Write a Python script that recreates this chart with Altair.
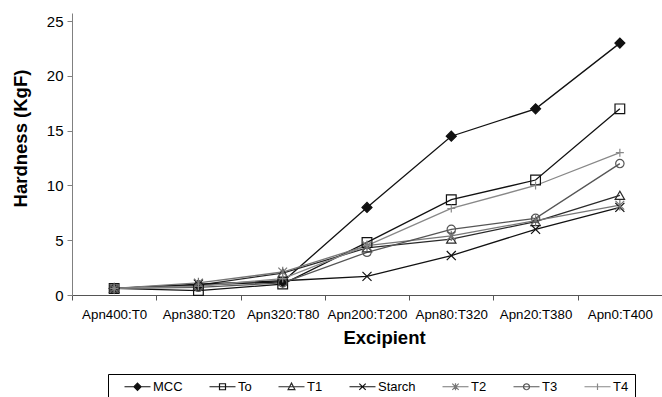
import math
import altair as alt
import pandas as pd

categories = ["Apn400:T0", "Apn380:T20", "Apn320:T80", "Apn200:T200",
              "Apn80:T320", "Apn20:T380", "Apn0:T400"]
series_names = ["MCC", "To", "T1", "Starch", "T2", "T3", "T4"]

mcc = [0.6, 0.9, 1.2, 8.0, 14.5, 17.0, 23.0]
to = [0.6, 0.4, 1.0, 4.8, 8.7, 10.5, 17.0]
t1 = [0.6, 0.9, 2.0, 4.3, 5.1, 6.7, 9.1]
starch = [0.6, 1.0, 1.3, 1.7, 3.6, 6.0, 8.0]
t2 = [0.6, 1.1, 2.1, 4.5, 5.4, 6.8, 8.2]
t3 = [0.6, 0.7, 1.1, 3.9, 6.0, 7.0, 12.0]
t4 = [0.6, 0.8, 1.5, 4.5, 7.9, 10.0, 13.0]

y_ticks = [0, 5, 10, 15, 20, 25]

series_values = {"MCC": mcc, "To": to, "T1": t1, "Starch": starch,
                 "T2": t2, "T3": t3, "T4": t4}
rows = []
for s in series_names:
    for c, v in zip(categories, series_values[s]):
        rows.append({"Excipient": c, "Series": s, "Hardness": v})
df = pd.DataFrame(rows)

# styles
line_colors = ["#111111", "#111111", "#2a2a2a", "#111111", "#777777", "#555555", "#888888"]
fill_colors = ["#111111", "transparent", "transparent", "transparent",
               "transparent", "transparent", "transparent"]
X_PATH = "M-1,-1L1,1M-1,1L1,-1"
STAR_PATH = "M-1,-1L1,1M-1,1L1,-1M0,-1.2L0,1.2"
PLUS_PATH = "M-1,0L1,0M0,-1L0,1"
point_shapes = ["diamond", "square", "triangle-up", X_PATH, STAR_PATH, "circle", PLUS_PATH]
point_sizes = [100, 64, 64, 90, 64, 64, 64]

# legend symbols: line segment with marker in the middle (unit = sqrt(size)/2 px)
LINE = "M1,0L7.5,0"
def poly_circle(cx, r, n=16):
    pts = []
    for i in range(n):
        a = 2 * math.pi * i / n
        pts.append(f"{cx + r * math.cos(a):.3f},{r * math.sin(a):.3f}")
    return "M" + "L".join(pts) + "Z"

MC = 4.25
legend_paths = [
    LINE + f"M{MC},-0.9L{MC+0.9},0L{MC},0.9L{MC-0.9},0Z",
    LINE + f"M{MC-0.75},-0.75L{MC+0.75},-0.75L{MC+0.75},0.75L{MC-0.75},0.75Z",
    LINE + f"M{MC},-0.9L{MC+0.85},0.7L{MC-0.85},0.7Z",
    LINE + f"M{MC-0.8},-0.8L{MC+0.8},0.8M{MC-0.8},0.8L{MC+0.8},-0.8",
    LINE + f"M{MC-0.8},-0.8L{MC+0.8},0.8M{MC-0.8},0.8L{MC+0.8},-0.8M{MC},-0.9L{MC},0.9",
    LINE + poly_circle(MC, 0.75),
    LINE + f"M{MC},-0.8L{MC},0.8",
]

FONT = "Liberation Sans"

x_enc = alt.X(
    "Excipient:N", sort=categories, bandPosition=0.5,
    scale=alt.Scale(type="band", domain=categories, paddingInner=0, paddingOuter=0),
    axis=alt.Axis(tickBand="extent", tickSize=5, labelAngle=0, labelFontSize=13.3,
                  labelPadding=7, labelColor="#000000", domainColor="#555555",
                  tickColor="#555555", grid=False, title="Excipient",
                  titleFontSize=18.5, titleFontWeight="bold", titleColor="#000000",
                  titleX=312, titleY=48, titleBaseline="alphabetic", titleAlign="center"),
)
y_enc = alt.Y(
    "Hardness:Q",
    scale=alt.Scale(domain=[0, 25.75], nice=False, zero=True),
    axis=alt.Axis(values=y_ticks, tickSize=5, labelFontSize=15, labelPadding=4,
                  labelColor="#000000", domainColor="#808080", tickColor="#808080",
                  grid=False, title="Hardness (KgF)", titleFontSize=18.5,
                  titleFontWeight="bold", titleColor="#000000", titleAngle=270,
                  titleX=-46, titleY=125, titleBaseline="alphabetic", titleAlign="center"),
)

stroke_scale = alt.Scale(domain=series_names, range=line_colors)

lines = alt.Chart(df).mark_line(strokeWidth=1.3).encode(
    x=x_enc, y=y_enc,
    stroke=alt.Stroke("Series:N", scale=stroke_scale, legend=None),
    detail="Series:N",
)

points = alt.Chart(df).mark_point(filled=False, strokeWidth=1.2, opacity=1).encode(
    x=x_enc, y=y_enc,
    shape=alt.Shape("Series:N", scale=alt.Scale(domain=series_names, range=point_shapes), legend=None),
    stroke=alt.Stroke("Series:N", scale=stroke_scale, legend=None),
    fill=alt.Fill("Series:N", scale=alt.Scale(domain=series_names, range=fill_colors), legend=None),
    size=alt.Size("Series:N", scale=alt.Scale(domain=series_names, range=point_sizes), legend=None),
)

leg = alt.Legend(orient="none", legendX=36, legendY=361, direction="horizontal",
                 columns=7, padding=6, strokeColor="#000000", fillColor="#ffffff",
                 symbolSize=64, symbolStrokeWidth=1.2, labelFontSize=13, labelFont=FONT,
                 labelColor="#000000", labelOffset=26, columnPadding=16, title=None)

legend_layer = alt.Chart(df).mark_point(filled=False, strokeWidth=1.2, opacity=1).transform_filter(
    "false"
).encode(
    x=x_enc, y=y_enc,
    shape=alt.Shape("Series:N", scale=alt.Scale(domain=series_names, range=legend_paths), legend=leg),
    stroke=alt.Stroke("Series:N", scale=alt.Scale(domain=series_names, range=line_colors), legend=leg),
    fill=alt.Fill("Series:N", scale=alt.Scale(domain=series_names, range=fill_colors), legend=leg),
)

chart = alt.layer(lines, points, legend_layer).resolve_scale(
    shape="independent", stroke="independent", fill="independent"
).resolve_legend(
    shape="independent", stroke="independent", fill="independent"
).properties(
    width=590, height=282,
    padding={"left": 72, "top": 13, "right": 0, "bottom": 102},
    autosize=alt.AutoSizeParams(type="none"),
).configure(font=FONT).configure_view(strokeOpacity=0)

chart.save("out.html", embed_options={"renderer": "svg", "actions": False})
